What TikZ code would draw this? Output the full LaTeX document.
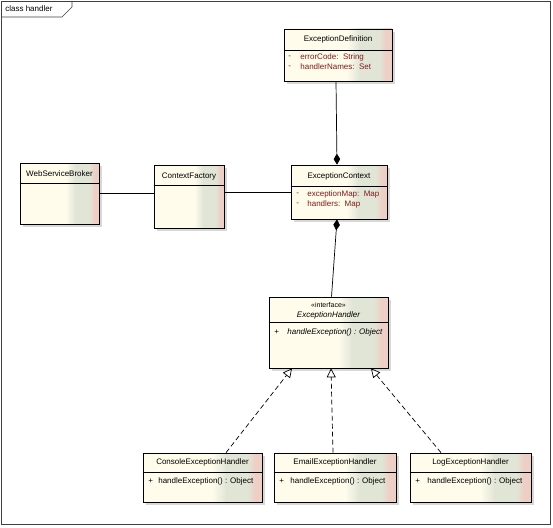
\documentclass[tikz,border=0pt]{standalone}
\usepackage{fontspec}
\setmainfont{Liberation Sans}
\usetikzlibrary{arrows.meta,shadows}
\definecolor{umlcream}{RGB}{255,252,236}
\definecolor{umlgreen}{RGB}{225,229,214}
\definecolor{umlpink}{RGB}{238,207,198}
\definecolor{attrred}{RGB}{130,25,25}
\pgfdeclarehorizontalshading{umlfill}{100bp}{color(0bp)=(umlcream); color(54bp)=(umlcream); color(60bp)=(umlgreen); color(69bp)=(umlgreen); color(72bp)=(umlpink); color(100bp)=(umlpink)}

\begin{document}
\begin{tikzpicture}[x=1pt, y=-1pt, >=latex, line width=0.7pt,
  umlbox/.style={draw=black, shade, shading=umlfill,
    drop shadow={shadow xshift=3pt, shadow yshift=-3pt, fill=black!30}},
  cname/.style={font=\fontsize{8}{9}\selectfont, inner sep=0pt},
  attr/.style={font=\fontsize{8}{9}\selectfont, text=attrred, anchor=west, inner sep=0pt},
  meth/.style={font=\fontsize{8}{9}\selectfont, anchor=west, inner sep=0pt},
  compo/.style={-{Diamond[length=11pt, width=6.5pt]}},
  realize/.style={dash pattern=on 5pt off 3pt, -{Triangle[open, length=9pt, width=9pt]}}]

\useasboundingbox (0,0) rectangle (553,527);

% Frame
\draw[black!75] (1,1) rectangle (550,524);
\draw[black!75] (1,17) -- (62,17) -- (72,7) -- (72,1);
\node[cname, anchor=west] (frame) at (5,9) {class handler};

% Class boxes
\node[umlbox, minimum width=108pt, minimum height=52pt] (def) at (338,55) {};
\node[umlbox, minimum width=79pt, minimum height=61pt] (wsb) at (59.5,193.5) {};
\node[umlbox, minimum width=70pt, minimum height=63pt] (cf) at (189,196.5) {};
\node[umlbox, minimum width=96pt, minimum height=54pt] (ec) at (339,192) {};
\node[umlbox, minimum width=119pt, minimum height=71pt] (eh) at (328.5,332.5) {};
\node[umlbox, minimum width=119pt, minimum height=49pt] (con) at (202.5,477.5) {};
\node[umlbox, minimum width=122pt, minimum height=49pt] (eml) at (335,477.5) {};
\node[umlbox, minimum width=121pt, minimum height=49pt] (log) at (470.5,477.5) {};

% Header separators
\draw (def.west |- 0,50) -- (def.east |- 0,50);
\draw (wsb.west |- 0,183) -- (wsb.east |- 0,183);
\draw (cf.west |- 0,185) -- (cf.east |- 0,185);
\draw (ec.west |- 0,186) -- (ec.east |- 0,186);
\draw (eh.west |- 0,322) -- (eh.east |- 0,322);
\draw (con.west |- 0,472) -- (con.east |- 0,472);
\draw (eml.west |- 0,472) -- (eml.east |- 0,472);
\draw (log.west |- 0,472) -- (log.east |- 0,472);

% Names and members
\node[cname] (defname) at (338,39) {ExceptionDefinition};
\node[attr] (defv1) at (288,57) {-};
\node[attr] (defa1) at (300,57) {errorCode:\ \ String};
\node[attr] (defv2) at (288,67) {-};
\node[attr] (defa2) at (300,67) {handlerNames:\ \ Set};

\node[cname] (wsbname) at (59.5,174) {WebServiceBroker};
\node[cname] (cfname) at (189,177) {ContextFactory};

\node[cname] (ecname) at (339,176) {ExceptionContext};
\node[attr] (ecv1) at (296,194) {-};
\node[attr] (eca1) at (307,194) {exceptionMap:\ \ Map};
\node[attr] (ecv2) at (296,204) {-};
\node[attr] (eca2) at (307,204) {handlers:\ \ Map};

\node[cname, font=\fontsize{7}{8}\selectfont] (ehster) at (328.5,305) {«interface»};
\node[cname, font=\fontsize{8}{9}\itshape] (ehname) at (328.5,315) {ExceptionHandler};
\node[meth] (ehv) at (274,332) {+};
\node[meth, font=\fontsize{8}{9}\itshape] (ehm) at (287,332) {handleException() : Object};

\node[cname] (conname) at (202.5,462) {ConsoleExceptionHandler};
\node[meth] (conv) at (148,481) {+};
\node[meth] (conm) at (158,481) {handleException() : Object};

\node[cname] (emlname) at (335,462) {EmailExceptionHandler};
\node[meth] (emlv) at (279,481) {+};
\node[meth] (emlm) at (290,481) {handleException() : Object};

\node[cname] (logname) at (470.5,462) {LogExceptionHandler};
\node[meth] (logv) at (415,481) {+};
\node[meth] (logm) at (427,481) {handleException() : Object};

% Associations
\draw (wsb.east) -- (wsb.east -| cf.west);
\draw (ec.west -| cf.east) -- (ec.west);
\draw[compo] ([xshift=-2pt]def.south) -- ([xshift=-2pt]ec.north);
\draw[compo] ([xshift=3pt]eh.north) -- ([xshift=-2pt]ec.south);

% Realizations
\draw[realize] ([xshift=23.5pt]con.north) -- ([xshift=-36.5pt]eh.south);
\draw[realize] ([xshift=-2pt]eml.north) -- ([xshift=2.5pt]eh.south);
\draw[realize] ([xshift=-29.5pt]log.north) -- ([xshift=42.5pt]eh.south);

\end{tikzpicture}
\end{document}
